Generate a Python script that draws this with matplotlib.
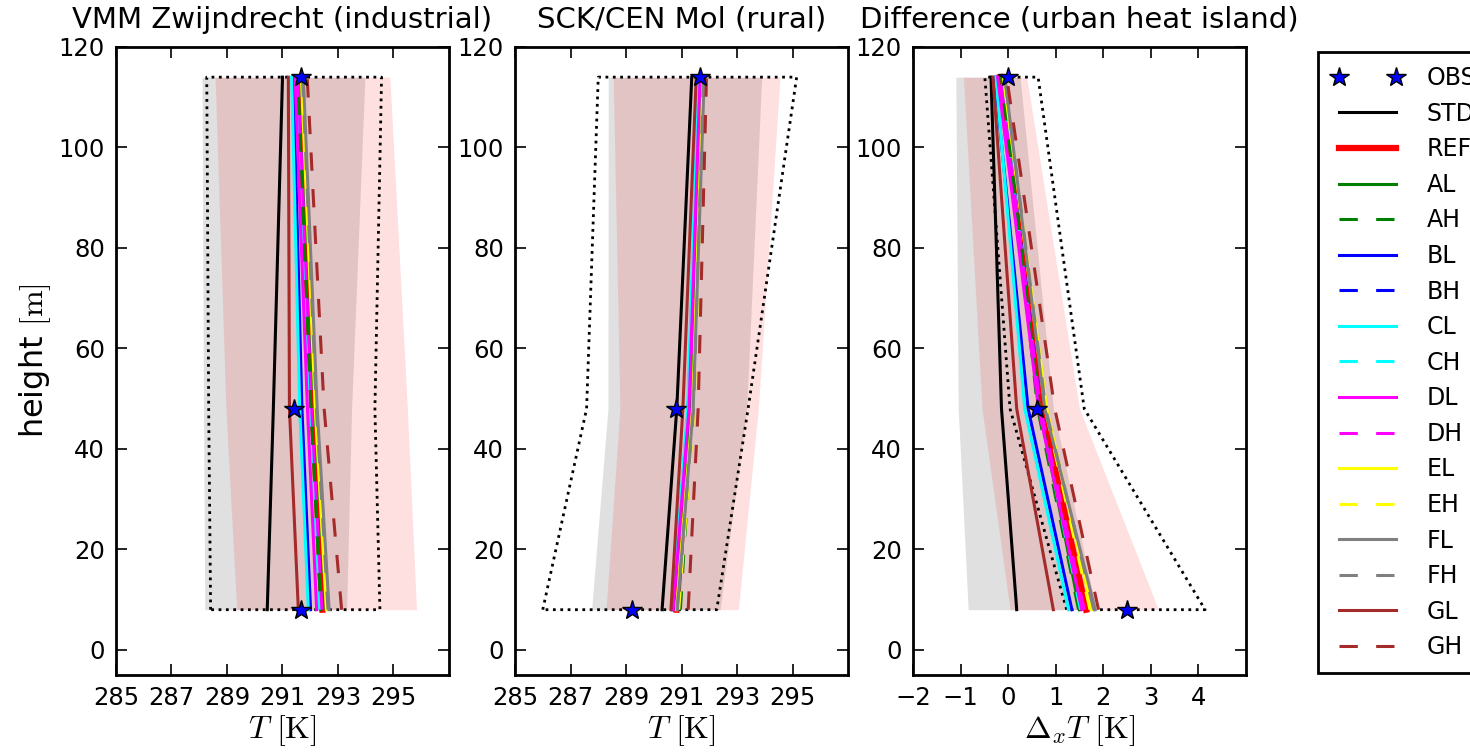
import numpy as np
import matplotlib
matplotlib.use("Agg")
import matplotlib.pyplot as plt

plt.rcParams['mathtext.fontset'] = 'cm'
plt.rcParams['font.family'] = ['DejaVu Sans']

heights = [8, 48, 114]

names = ['STD', 'REF', 'AL', 'AH', 'BL', 'BH', 'CL', 'CH', 'DL', 'DH',
         'EL', 'EH', 'FL', 'FH', 'GL', 'GH']

# observations (8, 48, 114 m)
obs_ind = [291.67, 291.42, 291.67]
obs_rur = [289.20, 290.80, 291.67]
obs_dif = [2.49, 0.61, 0.00]

# model runs, industrial site
ind = {
    'STD': [290.45, 290.67, 291.00],
    'REF': [292.44, 292.08, 291.57],
    'AL': [292.38, 292.03, 291.55],
    'AH': [292.47, 292.10, 291.60],
    'BL': [292.01, 291.70, 291.39],
    'BH': [292.36, 292.00, 291.52],
    'CL': [291.93, 291.62, 291.33],
    'CH': [292.34, 291.98, 291.50],
    'DL': [292.23, 291.90, 291.45],
    'DH': [292.42, 292.05, 291.56],
    'EL': [292.58, 292.18, 291.68],
    'EH': [292.62, 292.22, 291.72],
    'FL': [292.68, 292.25, 291.75],
    'FH': [292.64, 292.22, 291.72],
    'GL': [291.57, 291.25, 291.21],
    'GH': [293.13, 292.50, 291.89],
}
# model runs, rural site
rur = {
    'STD': [290.30, 290.83, 291.37],
    'REF': [290.82, 291.30, 291.70],
    'AL': [290.86, 291.33, 291.69],
    'AH': [290.96, 291.40, 291.72],
    'BL': [290.68, 291.24, 291.66],
    'BH': [290.80, 291.30, 291.67],
    'CL': [290.66, 291.22, 291.60],
    'CH': [290.82, 291.31, 291.64],
    'DL': [290.70, 291.27, 291.67],
    'DH': [290.82, 291.36, 291.72],
    'EL': [290.82, 291.40, 291.78],
    'EH': [290.90, 291.45, 291.81],
    'FL': [290.85, 291.42, 291.82],
    'FH': [290.84, 291.44, 291.79],
    'GL': [290.62, 291.05, 291.53],
    'GH': [291.24, 291.60, 291.90],
}
# difference industrial - rural
dif = {
    'STD': [0.18, -0.14, -0.36],
    'REF': [1.64, 0.70, -0.17],
    'AL': [1.50, 0.66, -0.14],
    'AH': [1.48, 0.62, -0.12],
    'BL': [1.34, 0.42, -0.28],
    'BH': [1.55, 0.68, -0.15],
    'CL': [1.27, 0.35, -0.26],
    'CH': [1.52, 0.66, -0.14],
    'DL': [1.55, 0.64, -0.22],
    'DH': [1.60, 0.68, -0.16],
    'EL': [1.76, 0.81, -0.10],
    'EH': [1.72, 0.78, -0.09],
    'FL': [1.83, 0.77, -0.07],
    'FH': [1.80, 0.79, -0.07],
    'GL': [0.95, 0.18, -0.32],
    'GH': [1.90, 0.98, -0.03],
}

# shaded bands (left, right) and dotted envelope (left, right)
ind_grey = ([288.20, 288.15, 288.10], [293.31, 293.49, 293.97])
ind_pink = ([289.35, 288.96, 288.57], [295.83, 295.50, 294.87])
ind_env = ([288.41, 288.34, 288.27], [294.51, 294.33, 294.57])
rur_grey = ([287.76, 288.35, 288.36], [292.39, 293.35, 293.89])
rur_pink = ([288.28, 288.78, 288.54], [293.05, 293.77, 294.55])
rur_env = ([286.00, 287.58, 288.00], [292.27, 293.40, 295.15])
dif_grey = ([-0.84, -1.05, -1.10], [1.85, 0.95, 0.25])
dif_pink = ([0.04, -0.55, -0.94], [3.16, 1.50, 0.39])
dif_env = ([1.23, 0.04, -0.49], [4.14, 1.60, 0.63])

styles = {
    'STD': ('#000000', '-', 2.2), 'REF': ('#ff0000', '-', 4.5),
    'AL': ('#008000', '-', 2.2), 'AH': ('#008000', '--', 2.2),
    'BL': ('#0000ff', '-', 2.2), 'BH': ('#0000ff', '--', 2.2),
    'CL': ('#00ffff', '-', 2.2), 'CH': ('#00ffff', '--', 2.2),
    'DL': ('#ff00ff', '-', 2.2), 'DH': ('#ff00ff', '--', 2.2),
    'EL': ('#ffff00', '-', 2.2), 'EH': ('#ffff00', '--', 2.2),
    'FL': ('#808080', '-', 2.2), 'FH': ('#808080', '--', 2.2),
    'GL': ('#a52a2a', '-', 2.2), 'GH': ('#a52a2a', '--', 2.2),
}

fig = plt.figure(figsize=(14.7, 7.54), dpi=100)
W, H = 1470.0, 754.0
lefts = [116, 515, 913]
titles = ['VMM Zwijndrecht (industrial)', 'SCK/CEN Mol (rural)',
          'Difference (urban heat island)']
runs = [ind, rur, dif]
obs = [obs_ind, obs_rur, obs_dif]
greys = [ind_grey, rur_grey, dif_grey]
pinks = [ind_pink, rur_pink, dif_pink]
envs = [ind_env, rur_env, dif_env]
xlims = [(285, 297), (285, 297), (-2, 5)]
xticks = [range(285, 296, 2), range(285, 296, 2), range(-2, 5)]
xlabels = [r'$T\ [\mathrm{K}]$', r'$T\ [\mathrm{K}]$', r'$\Delta_x T\ [\mathrm{K}]$']

handles = []
for i in range(3):
    ax = fig.add_axes([lefts[i] / W, 79 / H, 333 / W, 628 / H])
    g = greys[i]
    p = pinks[i]
    e = envs[i]
    ax.fill_betweenx(heights, g[0], g[1], color='k', alpha=0.12, lw=0)
    ax.fill_betweenx(heights, p[0], p[1], color='r', alpha=0.12, lw=0)
    ex = list(e[0]) + list(e[1])[::-1] + [e[0][0]]
    ey = heights + heights[::-1] + [heights[0]]
    ax.plot(ex, ey, 'k:', lw=2)
    handles = []
    for n in names:
        c, ls, lw = styles[n]
        if ls == '--':
            h, = ax.plot(runs[i][n], heights, color=c, lw=lw, dashes=(6, 6), label=n)
        else:
            h, = ax.plot(runs[i][n], heights, color=c, lw=lw, label=n)
        handles.append(h)
    ho, = ax.plot(obs[i], heights, '*', color='b', mec='k', ms=15, label='OBS')
    handles = [ho] + handles
    ax.set_xlim(xlims[i])
    ax.set_ylim(-5, 120)
    ax.set_xticks(list(xticks[i]))
    ax.set_yticks(range(0, 121, 20))
    ax.tick_params(direction='in', top=True, right=True, length=8, width=1.2,
                   labelsize=17.5, pad=8)
    for s in ax.spines.values():
        s.set_linewidth(2)
    ax.set_title(titles[i], fontsize=21, pad=14)
    ax.set_xlabel(xlabels[i], fontsize=23, labelpad=2)
    if i == 0:
        ax.set_ylabel(r'height $[\mathrm{m}]$', fontsize=23, labelpad=4)

leg = fig.legend(handles=handles, loc='upper left',
                 bbox_to_anchor=(1318 / W, 1 - 52 / H), numpoints=2,
                 fontsize=17, handlelength=3.0, handletextpad=1.0,
                 labelspacing=0.49, borderaxespad=0, borderpad=0.6,
                 fancybox=False, edgecolor='k', framealpha=1)
leg.get_frame().set_linewidth(2)

fig.savefig('out.png', dpi=100)
